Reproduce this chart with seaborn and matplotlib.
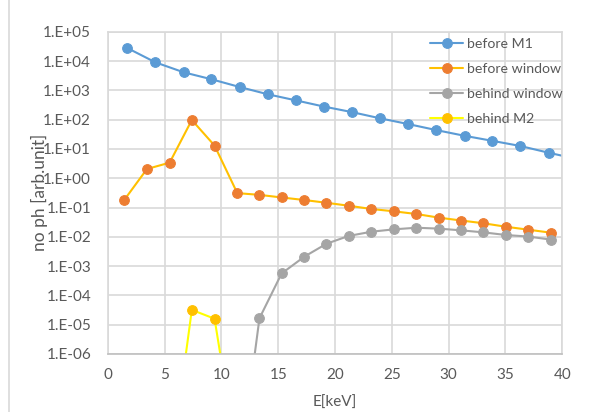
import numpy as np
import pandas as pd
import matplotlib
matplotlib.use("Agg")
import matplotlib.pyplot as plt
from matplotlib.patches import Rectangle
import seaborn as sns

# energies [keV]
e_m1 = [1.7, 4.2, 6.7, 9.1, 11.6, 14.1, 16.6, 19.0, 21.5, 24.0, 26.4, 28.9,
        31.4, 33.8, 36.3, 38.8, 41.2]
e_win = [1.45, 3.45, 5.45, 7.4, 9.4, 11.4, 13.35, 15.3, 17.3, 19.25, 21.2,
         23.2, 25.2, 27.15, 29.15, 31.1, 33.05, 35.05, 37.0, 39.0]

before_m1 = [2.8e4, 9.0e3, 4.1e3, 2.4e3, 1.3e3, 7.3e2, 4.5e2, 2.8e2, 1.8e2,
             1.1e2, 71, 44, 28, 19, 12.6, 7.4, 4.6]
before_window = [0.18, 2.06, 3.4, 97, 13, 0.31, 0.27, 0.22, 0.18, 0.145,
                 0.115, 0.089, 0.074, 0.060, 0.045, 0.036, 0.029, 0.022,
                 0.0175, 0.0138]
# behind window: only from 11.4 keV on
e_bw = e_win[5:]
behind_window = [3e-11, 1.65e-5, 5.6e-4, 2.1e-3, 5.8e-3, 0.0107, 0.0149,
                 0.018, 0.0204, 0.019, 0.0166, 0.0142, 0.0115, 0.0102, 0.008]
# behind M2: 5.4 .. 11.4 keV
e_m2 = e_win[2:6]
behind_m2 = [8e-11, 3.2e-5, 1.6e-5, 2.5e-10]

sns.set_style("white")
plt.rcParams["font.family"] = ["Lato", "DejaVu Sans"]

fig = plt.figure(figsize=(5.89, 4.12), dpi=100)
ax = fig.add_axes([0.1829, 0.1408, 0.7718, 0.7822])

# chart area border
fig.add_artist(Rectangle((9 / 589, -0.2), 1.2, 1.2 + (1 - 10.7 / 412),
                         transform=fig.transFigure, fill=False,
                         edgecolor="#D9D9D9", linewidth=1.2))

series = [
    (e_m1, before_m1, "before M1", "#5B9BD5", "#5B9BD5"),
    (e_win, before_window, "before window", "#FFC000", "#ED7D31"),
    (e_bw, behind_window, "behind window", "#A5A5A5", "#A5A5A5"),
    (e_m2, behind_m2, "behind M2", "#FFFF00", "#FFC000"),
]
for xs, ys, name, lc, mc in series:
    df = pd.DataFrame({"E": xs, "n": ys})
    sns.lineplot(data=df, x="E", y="n", ax=ax, color=lc, linewidth=1.5,
                 marker="o", markersize=7, markerfacecolor=mc,
                 markeredgecolor=mc, label=name)

ax.set_yscale("log")
ax.set_ylim(1e-6, 1e5)
ax.set_xlim(0, 40)
ax.set_xticks(range(0, 41, 5))
ax.set_yticks([10.0 ** k for k in range(-6, 6)])
ax.yaxis.set_minor_locator(matplotlib.ticker.NullLocator())
ax.yaxis.set_major_formatter(
    plt.FuncFormatter(lambda v, p: f"1.E{int(round(np.log10(v))):+03d}"))

ax.grid(True, color="#D9D9D9", linewidth=1.2)
ax.set_axisbelow(True)
for s in ax.spines.values():
    s.set_color("#D9D9D9")
    s.set_linewidth(1.2)
ax.spines["bottom"].set_color("#BFBFBF")
ax.tick_params(length=0, labelsize=11, labelcolor="#595959")
ax.tick_params(axis="x", pad=10)
ax.tick_params(axis="y", pad=12)

ax.set_xlabel("E[keV]", fontsize=11, color="#595959")
ax.set_ylabel("no ph [arb.unit]", fontsize=12.5, color="#595959")
ax.xaxis.set_label_coords(0.5, -0.13)
ax.yaxis.set_label_coords(-0.132, 0.5)

ax.legend(loc="upper right", bbox_to_anchor=(1.02, 1.006), frameon=False,
          fontsize=10.2, labelcolor="#595959", handlelength=2.3,
          handletextpad=0.3, labelspacing=0.92, borderaxespad=0.2)

fig.savefig("out.png", dpi=100)
